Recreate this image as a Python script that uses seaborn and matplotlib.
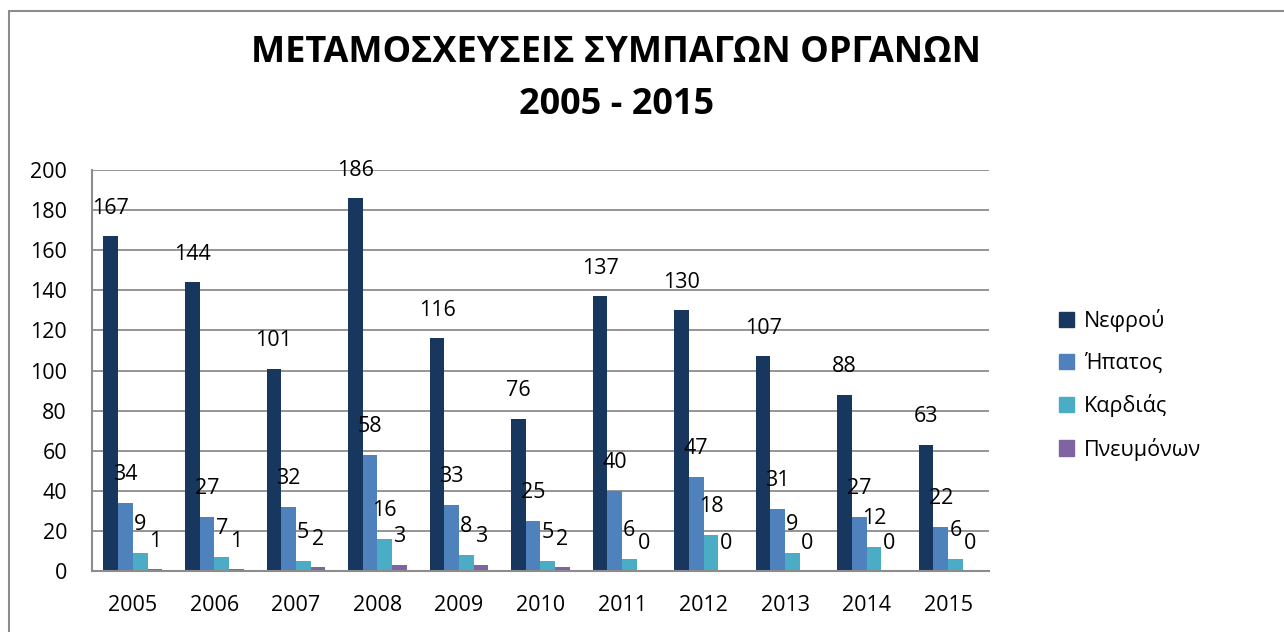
import pandas as pd
import matplotlib
matplotlib.use("Agg")
import matplotlib.pyplot as plt
from matplotlib.lines import Line2D
import seaborn as sns

# Dati
YEARS = ["2005", "2006", "2007", "2008", "2009", "2010",
         "2011", "2012", "2013", "2014", "2015"]
NEFROU = [167, 144, 101, 186, 116, 76, 137, 130, 107, 88, 63]
HPATOS = [34, 27, 32, 58, 33, 25, 40, 47, 31, 27, 22]
KARDIAS = [9, 7, 5, 16, 8, 5, 6, 18, 9, 12, 6]
PNEUMONON = [1, 1, 2, 3, 3, 2, 0, 0, 0, 0, 0]

SERIES = ["Νεφρού", "Ήπατος", "Καρδιάς", "Πνευμόνων"]
COLORS = ["#17375E", "#4F81BD", "#4BACC6", "#8064A2"]
TITLE = "ΜΕΤΑΜΟΣΧΕΥΣΕΙΣ ΣΥΜΠΑΓΩΝ ΟΡΓΑΝΩΝ\n2005 - 2015"

sns.set_theme(style="white")
plt.rcParams["font.family"] = ["Open Sans", "DejaVu Sans"]
plt.rcParams["text.color"] = "black"

rows = []
for name, vals in zip(SERIES, [NEFROU, HPATOS, KARDIAS, PNEUMONON]):
    for y, v in zip(YEARS, vals):
        rows.append({"year": y, "organ": name, "value": v})
df = pd.DataFrame(rows)

fig = plt.figure(figsize=(12.84, 6.32), dpi=100)
ax = fig.add_axes([0.0717, 0.0965, 0.6985, 0.6345])

sns.barplot(data=df, x="year", y="value", hue="organ", hue_order=SERIES,
            palette=COLORS, width=0.72, linewidth=0, saturation=1,
            ax=ax, legend=False)

ax.set_ylim(0, 200)
ax.set_yticks(range(0, 201, 20))
ax.set_xlim(-0.5, len(YEARS) - 0.5)
ax.yaxis.grid(True, color="#8C8C8C", linewidth=1.3)
ax.set_axisbelow(True)
ax.set_xlabel("")
ax.set_ylabel("")
for s in ["top", "right"]:
    ax.spines[s].set_visible(False)
for s in ["left", "bottom"]:
    ax.spines[s].set_color("#8C8C8C")
    ax.spines[s].set_linewidth(1.5)
ax.tick_params(axis="both", labelsize=15.5, colors="black", length=0)
ax.tick_params(axis="x", pad=17)
ax.tick_params(axis="y", pad=18)

# etichette dei valori sopra le barre
for cont, vals in zip(ax.containers, [NEFROU, HPATOS, KARDIAS, PNEUMONON]):
    for bar, v in zip(cont, vals):
        ax.annotate(str(v), (bar.get_x() + bar.get_width() / 2, bar.get_height()),
                    xytext=(0, 28), textcoords="offset pixels",
                    ha="center", va="center", fontsize=15.5, color="black",
                    annotation_clip=False)

handles = [plt.Rectangle((0, 0), 1, 1, color=c) for c in COLORS]
fig.legend(handles, SERIES, loc="center left", bbox_to_anchor=(0.81, 0.391),
           frameon=False, fontsize=15.5, handlelength=0.7, handleheight=0.7,
           handletextpad=0.45, labelspacing=0.95)

fig.text(0.48, 0.875, TITLE, ha="center", va="center", fontsize=26,
         fontweight="bold", linespacing=1.6, color="black")

# cornice del grafico
fig.add_artist(Line2D([0.007, 0.007], [0, 0.983], transform=fig.transFigure,
                      color="#8C8C8C", linewidth=1.5))
fig.add_artist(Line2D([0.007, 1.0], [0.983, 0.983], transform=fig.transFigure,
                      color="#8C8C8C", linewidth=1.5))

fig.savefig("out.png", dpi=100)
